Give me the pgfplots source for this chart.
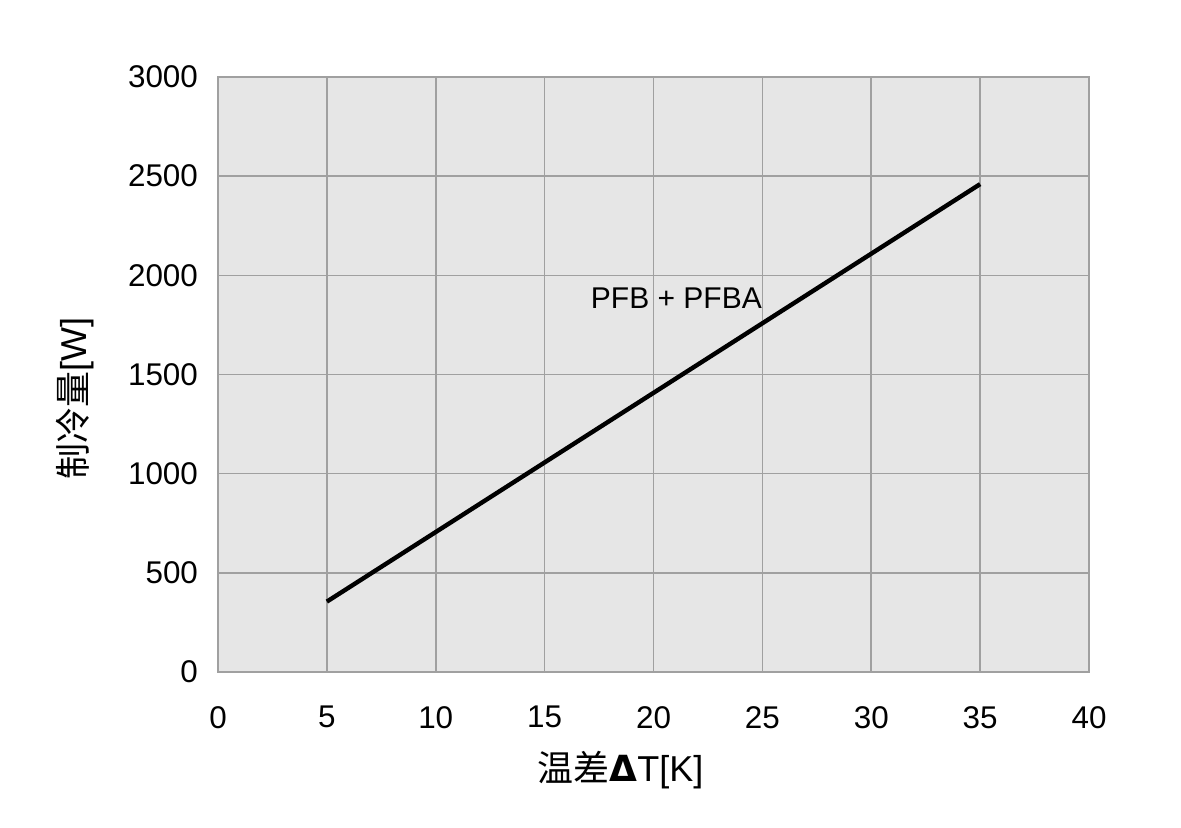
\documentclass[border=0pt]{standalone}
\usepackage{fontspec}
\setmainfont{Liberation Sans}
\newfontfamily\cjk{Noto Sans CJK SC}
\usepackage{pgfplots}
\pgfplotsset{compat=1.18}

\definecolor{bgfill}{HTML}{E6E6E6}
\definecolor{gridc}{HTML}{A0A0A0}

\begin{document}
\begin{tikzpicture}[x=1pt,y=1pt]
\begin{axis}[
    at={(0,0)}, anchor=south west,
    scale only axis,
    width=435.5pt, height=297.5pt,
    xmin=0, xmax=40,
    ymin=0, ymax=3000,
    xtick={0,5,...,40},
    ytick={0,500,...,3000},
    axis background/.style={fill=bgfill},
    axis line style={gridc, line width=0.8pt},
    grid=major,
    major grid style={gridc, line width=0.8pt},
    major tick length=0pt,
    tick label style={font=\fontsize{15.7}{18}\selectfont},
    /pgf/number format/assume math mode=true,
    /pgf/number format/1000 sep={},
    xticklabel style={yshift=-13.5pt},
    yticklabel style={xshift=-6.5pt},
    xlabel={{\cjk 温差}{\fontspec{DejaVu Sans}[BoldFont={* Bold}]\bfseries Δ}T[K]},
    ylabel={{\cjk 制冷量}[W]},
    label style={font=\fontsize{18}{20}\selectfont},
    xlabel style={at={(axis description cs:0.5,0)}, anchor=center, yshift=-49pt, xshift=-16.5pt},
    ylabel style={at={(axis description cs:0,0.5)}, anchor=center, yshift=71.5pt, xshift=-12pt},
]
\addplot[black, line width=2.2pt] coordinates {(5,355) (35,2460)};
\node[font=\fontsize{15}{18}\selectfont] at (axis cs:21.05,1886) {PFB + PFBA};
\end{axis}
\pgfresetboundingbox
\useasboundingbox (-109pt,-77.5pt) rectangle (481.5pt,336pt);
\end{tikzpicture}
\end{document}
